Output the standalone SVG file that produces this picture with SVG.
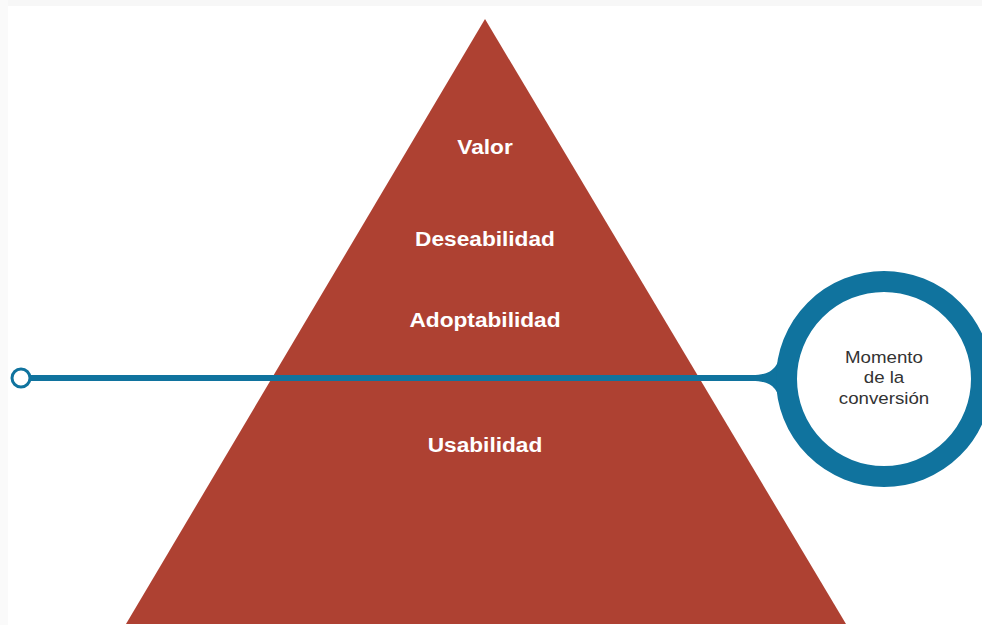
<svg xmlns="http://www.w3.org/2000/svg" width="982" height="625" viewBox="0 0 982 625">
  <style>
    .layer { font-family: "Liberation Sans", Arial, sans-serif; font-weight: bold; font-size: 21px; fill: #ffffff; text-anchor: middle; }
    .note { font-family: "Liberation Sans", Arial, sans-serif; font-size: 17px; fill: #333333; text-anchor: middle; }
    .blue { fill: #10739E; }
  </style>
  <rect x="0" y="0" width="982" height="625" fill="#ffffff"/>
  <rect x="0" y="0" width="982" height="6" fill="#f7f7f7"/>
  <rect x="0" y="0" width="8" height="625" fill="#fafafa"/>

  <!-- pyramid -->
  <g id="pyramid">
    <polygon points="485,19 846,624 126,624" fill="#AE4132"/>
    <text class="layer" transform="translate(485,154) scale(1.08,1)">Valor</text>
    <text class="layer" transform="translate(485,246) scale(1.08,1)">Deseabilidad</text>
    <text class="layer" transform="translate(485,327) scale(1.08,1)">Adoptabilidad</text>
    <text class="layer" transform="translate(485,452) scale(1.08,1)">Usabilidad</text>
  </g>

  <!-- callout line with flared end -->
  <g id="connectors">
    <line x1="30" y1="378" x2="770" y2="378" stroke="#10739E" stroke-width="6"/>
    <path class="blue" d="M 752,375 C 770,375 778,370 782,348 L 795,348 L 795,408 L 782,408 C 778,386 770,381 752,381 Z"/>
    <circle cx="21" cy="378" r="9" fill="#ffffff" stroke="#10739E" stroke-width="3"/>
  </g>

  <!-- conversion moment bubble -->
  <g id="conversion">
    <circle cx="884" cy="379" r="97.5" fill="#ffffff" stroke="#10739E" stroke-width="21"/>
    <text class="note" transform="translate(884,363) scale(1.1,1)">Momento</text>
    <text class="note" transform="translate(884,383) scale(1.1,1)">de la</text>
    <text class="note" transform="translate(884,404) scale(1.1,1)">conversión</text>
  </g>
</svg>
